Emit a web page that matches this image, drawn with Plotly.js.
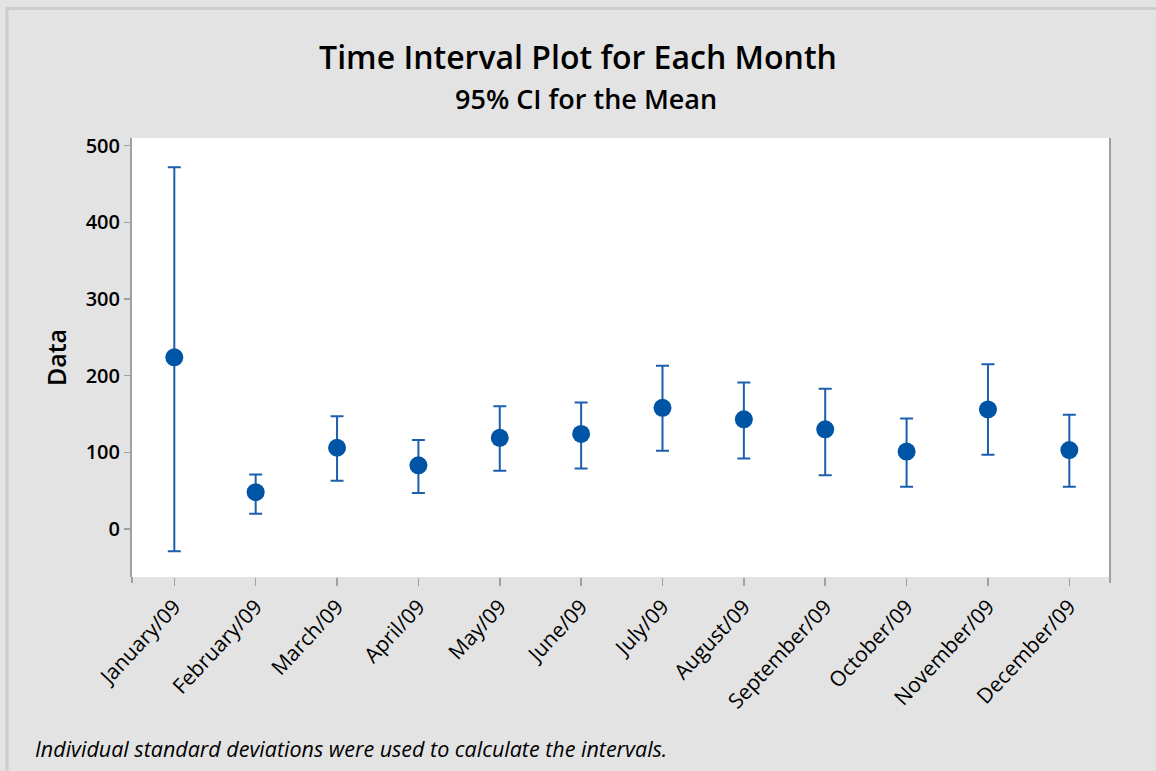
<!DOCTYPE html>
<html>
<head>
<meta charset="utf-8">
<script src="https://cdn.plot.ly/plotly-3.0.1.min.js"></script>
<style>html,body{margin:0;padding:0;background:#e3e3e3;}#chart{width:1156px;height:771px;}</style>
</head>
<body>
<div id="chart"></div>
<script>
const months = ["January/09","February/09","March/09","April/09","May/09","June/09","July/09","August/09","September/09","October/09","November/09","December/09"];
const means = [224, 48, 106, 83, 119, 124, 158, 143, 130, 101, 156, 103];
const upper = [472, 71, 147, 116, 160, 165, 213, 191, 183, 144, 215, 149];
const lower = [-29, 20, 63, 47, 76, 79, 102, 92, 70, 55, 97, 55];
const yTicks = [0, 100, 200, 300, 400, 500];

const errPlus = upper.map((u, i) => u - means[i]);
const errMinus = means.map((m, i) => m - lower[i]);

const FONT = "Open Sans, Noto Sans, sans-serif";
const L = 132, R = 1110, T = 138, B = 577;
const W = 1156, H = 771;
const px = x => (x - L) / (R - L);
const py = y => 1 - (y - T) / (B - T);

const trace = {
  x: months.map((_, i) => i),
  y: means,
  type: "scatter",
  mode: "markers",
  marker: {color: "#0054a6", size: 18, symbol: "circle"},
  error_y: {type: "data", symmetric: false, array: errPlus, arrayminus: errMinus,
            color: "#1c5fae", thickness: 2, width: 6.5},
  hoverinfo: "skip",
  showlegend: false
};

const layout = {
  width: W, height: H,
  paper_bgcolor: "#e3e3e3",
  plot_bgcolor: "#ffffff",
  margin: {l: L, r: W - R, t: T, b: H - B, pad: 0},
  font: {family: FONT, color: "#000000"},
  title: {text: "Time Interval Plot for Each Month", x: 0.5, xref: "container", xanchor: "center",
          y: 1 - 58 / H, yref: "container", yanchor: "middle",
          font: {family: FONT, size: 32, weight: 600, color: "#000"}},
  xaxis: {
    range: [-0.52, 11.5],
    tickmode: "array", tickvals: months.map((_, i) => i), ticktext: months,
    tickangle: -47, ticks: "outside", ticklen: 8, tickcolor: "#a0a0a0", tickwidth: 1.5,
    tickfont: {family: FONT, size: 21, weight: 500, color: "#000"},
    showgrid: false, zeroline: false, showline: false,
    fixedrange: true
  },
  yaxis: {
    range: [-62.6, 510],
    tickmode: "array", tickvals: yTicks,
    ticks: "outside", ticklen: 6, tickcolor: "#a0a0a0", tickwidth: 1.5,
    tickfont: {family: FONT, size: 20, weight: 600, color: "#000"},
    showgrid: false, zeroline: false,
    showline: true, linecolor: "#a0a0a0", linewidth: 2,
    title: {text: "Data", font: {family: FONT, size: 25, weight: 600, color: "#000"}, standoff: 12},
    fixedrange: true
  },
  annotations: [
    {text: "95% CI for the Mean", xref: "paper", yref: "paper", x: px(586), y: py(98),
     xanchor: "center", yanchor: "middle", showarrow: false,
     font: {family: FONT, size: 27, weight: 600, color: "#000"}},
    {text: "<i>Individual standard deviations were used to calculate the intervals.</i>",
     xref: "paper", yref: "paper", x: px(33), y: py(748), xanchor: "left", yanchor: "middle",
     showarrow: false, font: {family: FONT, size: 21.5, color: "#000"}}
  ],
  shapes: [
    {type: "line", xref: "paper", yref: "paper", x0: px(R), x1: px(R), y0: py(B + 6), y1: 1,
     line: {color: "#a0a0a0", width: 2}},
    {type: "line", xref: "paper", yref: "paper", x0: px(L), x1: px(L), y0: py(B + 6), y1: py(B),
     line: {color: "#a0a0a0", width: 2}},
    {type: "line", xref: "paper", yref: "paper", x0: px(6), x1: px(W), y0: py(8.5), y1: py(8.5),
     line: {color: "#cdcdcd", width: 3}},
    {type: "line", xref: "paper", yref: "paper", x0: px(7), x1: px(7), y0: py(8), y1: py(H),
     line: {color: "#cdcdcd", width: 3}}
  ]
};

Plotly.newPlot("chart", [trace], layout, {displayModeBar: false, staticPlot: true});
</script>
</body>
</html>
